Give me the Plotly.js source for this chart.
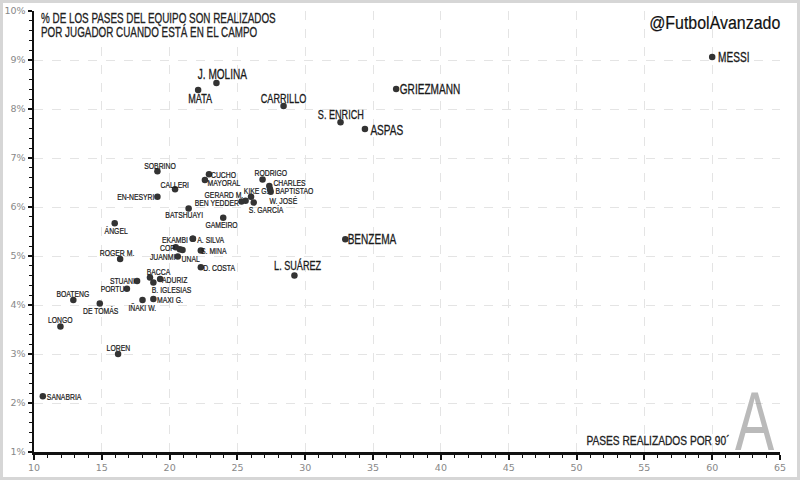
<!DOCTYPE html>
<html>
<head>
<meta charset="utf-8">
<script src="https://cdn.plot.ly/plotly-3.0.1.min.js"></script>
<style>
html,body{margin:0;padding:0;background:#fff;}
#chart{width:794px;height:474px;border:3px solid #d6d6d6;}
</style>
</head>
<body>
<div id="chart"></div>
<script>
// Data
var players = ["MESSI","GRIEZMANN","J. MOLINA","MATA","CARRILLO","S. ENRICH","ASPAS","BENZEMA","L. SUÁREZ",
  "SOBRINO","CUCHO","MAYORAL","CALLERI","EN-NESYRI","RODRIGO","CHARLES","BAPTISTAO","W. JOSÉ","KIKE G.",
  "GERARD M.","BEN YEDDER","S. GARCÍA","BATSHUAYI","GAMEIRO","ÁNGEL","EKAMBI","A. SILVA","COP","","UNAL",
  "JUANMI","S. MINA","ROGER M.","D. COSTA","BACCA","ADURIZ","STUANI","B. IGLESIAS","PORTU","BOATENG",
  "DE TOMÁS","IÑAKI W.","MAXI G.","LONGO","LOREN","SANABRIA"];
var passesPer90 = [60.0,36.7,23.45,22.1,28.4,32.6,34.4,32.95,29.2,
  19.1,22.9,22.6,20.4,19.1,26.85,27.35,27.45,27.4,26.0,
  25.6,25.3,26.2,21.4,23.95,15.95,21.7,21.72,20.45,20.75,20.95,
  20.6,22.3,16.35,22.3,18.55,19.3,17.6,18.8,16.85,12.9,
  14.85,18.0,18.8,11.95,16.2,10.65];
var pctTeamPasses = [9.06,8.41,8.53,8.39,8.06,7.73,7.59,5.34,4.60,
  6.73,6.67,6.55,6.36,6.21,6.56,6.43,6.31,6.36,6.21,
  6.13,6.11,6.09,5.97,5.78,5.67,5.35,5.35,5.18,5.14,5.12,
  4.99,5.11,4.94,4.77,4.56,4.53,4.49,4.46,4.33,4.10,
  4.03,4.10,4.12,3.56,3.00,2.14];
var xTicks = [10,15,20,25,30,35,40,45,50,55,60,65];
var yTicks = [1,2,3,4,5,6,7,8,9,10];
var yTickText = ["1%","2%","3%","4%","5%","6%","7%","8%","9%","10%"];

// Label styling (not data): pixel offset of each label centre from its dot
var labelShift = [[22,0],[34,0],[6,9],[2,-9],[0,8],[0,8],[22,-1],[27,0],[3,10],
  [2.5,5.5],[15,0],[19,-2.7],[0.3,5.3],[-21,0],[7.7,6.6],[20,3],[24,1],[13,-11],[4.7,6],
  [-22,5.7],[-24.3,-1.3],[13.2,-7],[-5,-6.3],[-1.7,-7],[1.3,-7],[-17.8,-0.5],[18,-0.5],[-8.7,0],[0,0],[8.3,-8.3],
  [-15,0],[13.6,0],[-3,6.3],[18.8,0],[8.7,6],[15.3,0],[-15,0],[18.6,-6.9],[-14.2,0],[0,7],
  [1,-7.1],[-0.4,-7],[16.8,-0.7],[-0.3,6.7],[0,6.3],[21.8,-0.7]];
var big = ["MESSI","GRIEZMANN","J. MOLINA","ASPAS","BENZEMA"];
var med = ["MATA","CARRILLO","S. ENRICH","L. SUÁREZ"];

var FONT = "Liberation Sans, Arial, sans-serif";

var trace = {
  type: "scatter",
  mode: "markers",
  x: passesPer90,
  y: pctTeamPasses,
  marker: {color: "#333", size: 6.5},
  cliponaxis: false,
  hoverinfo: "skip"
};

var annotations = [
  {xref: "paper", yref: "paper", x: 0.007, y: 0.984, xanchor: "left", yanchor: "middle", align: "left", showarrow: false,
   text: "% DE LOS PASES DEL EQUIPO SON REALIZADOS", font: {family: FONT, size: 14, color: "#222"}},
  {xref: "paper", yref: "paper", x: 0.007, y: 0.952, xanchor: "left", yanchor: "middle", align: "left", showarrow: false,
   text: "POR JUGADOR CUANDO ESTÁ EN EL CAMPO", font: {family: FONT, size: 14, color: "#222"}},
  {xref: "paper", yref: "paper", x: 1.003, y: 0.973, xanchor: "right", yanchor: "middle", align: "right", showarrow: false,
   text: "@FutbolAvanzado", font: {family: FONT, size: 19, color: "#111"}},
  {xref: "paper", yref: "paper", x: 0.935, y: 0.005, xanchor: "right", yanchor: "bottom", align: "right", showarrow: false,
   text: "PASES REALIZADOS POR 90´", font: {family: FONT, size: 13, color: "#222"}},
  {xref: "paper", yref: "paper", x: 0.995, y: -0.04, xanchor: "right", yanchor: "bottom", align: "right", showarrow: false,
   text: "A", font: {family: FONT, size: 84, color: "rgba(140,140,140,0.6)"}}
];
var annScale = [0.705, 0.705, 0.84, 0.785, 0.7];
var annStroke = [0.3, 0.3, 0.2, 0.3, 0];

players.forEach(function(name, i){
  if(!name) return;
  var isBig = big.indexOf(name) >= 0, isMed = med.indexOf(name) >= 0;
  annotations.push({
    xref: "x", yref: "y", x: passesPer90[i], y: pctTeamPasses[i],
    text: name, showarrow: false, xanchor: "center", yanchor: "middle",
    xshift: labelShift[i][0], yshift: labelShift[i][1],
    font: {family: FONT, size: isBig ? 14 : (isMed ? 13 : 9.5), color: "#1a1a1a"}
  });
  annScale.push(isBig ? 0.72 : (isMed ? 0.7 : 0.72));
  annStroke.push(isBig || isMed ? 0.3 : 0.25);
});

var layout = {
  width: 794, height: 474,
  margin: {l: 31, r: 17, t: 8, b: 25},
  paper_bgcolor: "#fff",
  plot_bgcolor: "#fff",
  showlegend: false,
  font: {family: "DejaVu Sans, sans-serif", color: "#888"},
  xaxis: {
    range: [10, 65], tickvals: xTicks, ticktext: xTicks.map(String), ticks: "outside", ticklen: 5, tickwidth: 2, tickcolor: "#111",
    minor: {dtick: 1, ticks: "outside", ticklen: 3, tickcolor: "#111", tickwidth: 1, showgrid: false},
    showline: true, linecolor: "#111", linewidth: 2.5,
    showgrid: true, gridcolor: "#e4e4e4", griddash: "dash", gridwidth: 1,
    zeroline: false, tickfont: {size: 9.5, color: "#888"}
  },
  yaxis: {
    range: [1, 10], tickvals: yTicks, ticktext: yTickText, ticks: "outside", ticklen: 4, tickwidth: 2, tickcolor: "#111",
    minor: {dtick: 0.2, ticks: "outside", ticklen: 3, tickcolor: "#111", tickwidth: 1, showgrid: false},
    showline: true, linecolor: "#111", linewidth: 2.5,
    showgrid: true, gridcolor: "#e4e4e4", griddash: "dash", gridwidth: 1,
    zeroline: false, tickfont: {size: 9.5, color: "#888"}
  },
  annotations: annotations
};

// horizontal condensing of text (the reference uses a condensed face)
function condense(gd){
  gd.querySelectorAll(".annotation").forEach(function(a){
    var i = +a.getAttribute("data-index");
    var t = a.querySelector(".annotation-text");
    if(!t) return;
    var anchor = t.getAttribute("text-anchor") || "start";
    var origin = anchor === "end" ? "right" : (anchor === "middle" ? "center" : "left");
    t.style.transformBox = "fill-box";
    t.style.transformOrigin = origin + " center";
    t.style.transform = "scaleX(" + annScale[i] + ")";
    if(annStroke[i]){
      t.style.stroke = t.style.fill || "#1a1a1a";
      t.style.strokeWidth = annStroke[i] + "px";
    }
  });
}

Plotly.newPlot("chart", [trace], layout, {displayModeBar: false, staticPlot: true}).then(condense);
</script>
</body>
</html>
